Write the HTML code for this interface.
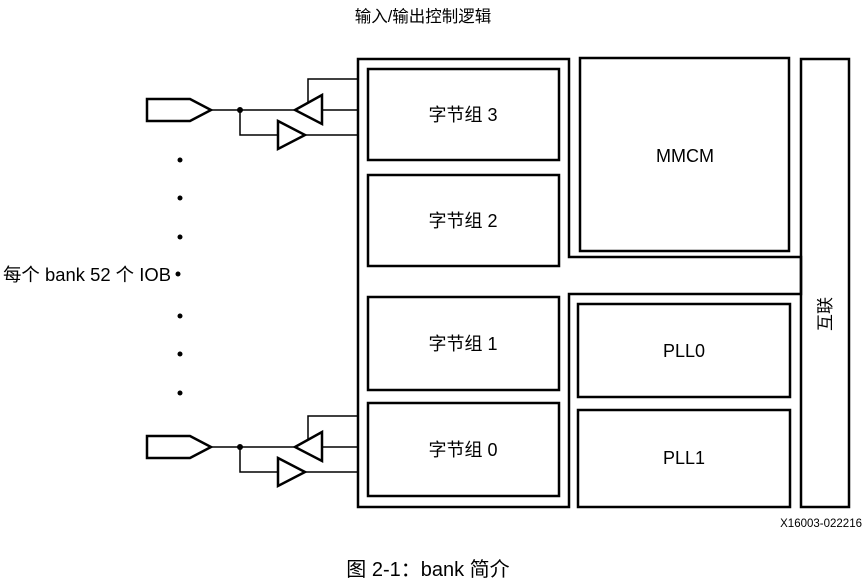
<!DOCTYPE html>
<html><head><meta charset="utf-8"><style>
html,body{margin:0;padding:0;background:#fff;}
svg text{font-family:"Liberation Sans","Noto Sans CJK SC",sans-serif;fill:#000;}
</style></head><body>
<svg width="865" height="580" viewBox="0 0 865 580" xmlns="http://www.w3.org/2000/svg">
<g fill="none" stroke="#000" stroke-width="2.5">
<polygon points="358,59 569,59 569,257 801,257 801,294 569,294 569,507 358,507"/>
<rect x="801" y="59" width="48" height="448"/>
<rect x="580" y="58" width="209" height="193"/>
<rect x="368" y="69" width="191" height="91"/>
<rect x="368" y="175" width="191" height="91"/>
<rect x="368" y="297" width="191" height="93"/>
<rect x="368" y="403" width="191" height="93"/>
<rect x="578" y="304" width="212" height="93"/>
<rect x="578" y="410" width="212" height="97"/>
</g>
<g id="io" fill="none" stroke="#000">
<polygon points="147,99 190,99 211,110 190,121 147,121" stroke-width="2.5"/>
<polyline points="211,110 295,110" stroke-width="1.5"/>
<polyline points="322,110 358,110" stroke-width="1.5"/>
<polyline points="308,102 308,79 358,79" stroke-width="1.5"/>
<polyline points="240,110 240,135 278,135" stroke-width="1.5"/>
<polyline points="305,135 358,135" stroke-width="1.5"/>
<polygon points="295,110 322,95 322,124" stroke-width="2.5"/>
<polygon points="278,121 305,135 278,149" stroke-width="2.5"/>
<circle cx="240" cy="110" r="3" fill="#000" stroke="none"/>
</g>
<use href="#io" transform="translate(0,337)"/>
<g fill="#000">
<circle cx="180" cy="160" r="2.5"/><circle cx="180" cy="198" r="2.5"/>
<circle cx="180" cy="237" r="2.5"/><circle cx="178" cy="274" r="2.5"/>
<circle cx="180" cy="316" r="2.5"/><circle cx="180" cy="354" r="2.5"/>
<circle cx="180" cy="393" r="2.5"/>
</g>
<text x="423" y="22" font-size="16.5" text-anchor="middle">输入/输出控制逻辑</text>
<text x="3" y="281" font-size="18" textLength="168" lengthAdjust="spacingAndGlyphs">每个 bank 52 个 IOB</text>
<text x="463" y="121" font-size="18" text-anchor="middle">字节组 3</text>
<text x="463" y="227" font-size="18" text-anchor="middle">字节组 2</text>
<text x="463" y="350" font-size="18" text-anchor="middle">字节组 1</text>
<text x="463" y="456" font-size="18" text-anchor="middle">字节组 0</text>
<text x="685" y="162" font-size="18" text-anchor="middle">MMCM</text>
<text x="684" y="357" font-size="18" text-anchor="middle">PLL0</text>
<text x="684" y="464" font-size="18" text-anchor="middle">PLL1</text>
<text transform="translate(831,314) rotate(-90)" font-size="17" text-anchor="middle">互联</text>
<text x="862" y="527" font-size="11.5" text-anchor="end">X16003-022216</text>
<text x="428" y="576" font-size="20" text-anchor="middle">图 2-1：bank 简介</text>
</svg>
</body></html>
